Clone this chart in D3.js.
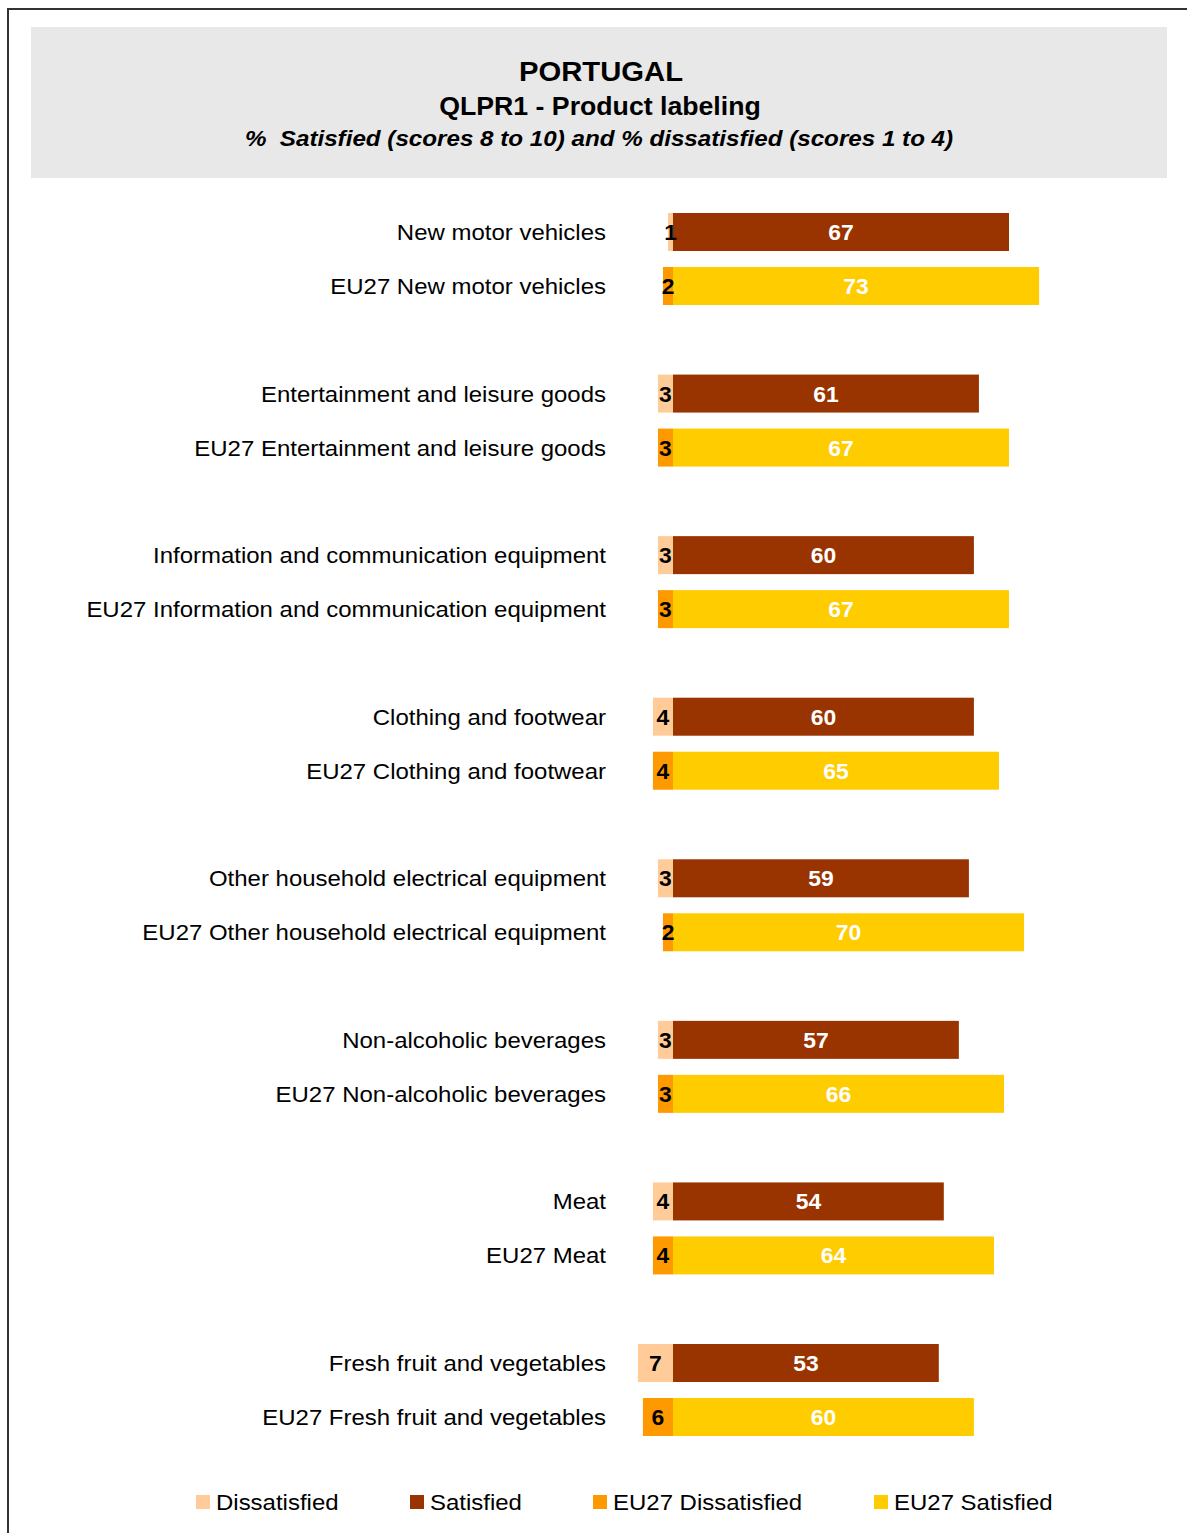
<!DOCTYPE html>
<html><head><meta charset="utf-8">
<script src="https://cdn.jsdelivr.net/npm/d3@7"></script>
<style>body{margin:0;background:#fff}svg{display:block}text{font-family:"Liberation Sans",Arial,sans-serif;white-space:pre}</style>
</head><body>
<script>
const categories = ["New motor vehicles","Entertainment and leisure goods","Information and communication equipment","Clothing and footwear","Other household electrical equipment","Non-alcoholic beverages","Meat","Fresh fruit and vegetables"];
const dissatisfied = [1,3,3,4,3,3,4,7];
const satisfied = [67,61,60,60,59,57,54,53];
const eu27Dissatisfied = [2,3,3,4,2,3,4,6];
const eu27Satisfied = [73,67,67,65,70,66,64,60];
const seriesNames = ["Dissatisfied","Satisfied","EU27 Dissatisfied","EU27 Satisfied"];
const colors = ["#FFCC99","#993300","#FF9900","#FFCC00"];
const titleLines = ["PORTUGAL","QLPR1 - Product labeling","%  Satisfied (scores 8 to 10) and % dissatisfied (scores 1 to 4)"];

const W=1187,H=1533;
const svg=d3.select("body").append("svg").attr("width",W).attr("height",H);
svg.append("path").attr("d","M8,1533 L8,9 L1187,9").attr("fill","none").attr("stroke","#333").attr("stroke-width",2);
svg.append("rect").attr("x",31).attr("y",27).attr("width",1136).attr("height",151).attr("fill","#E8E8E8");
const tt=(x,y,sx)=>`translate(${x},${y}) scale(${sx},1)`;
svg.append("text").attr("transform",tt(601,81,1.045)).attr("text-anchor","middle").attr("font-size",28).attr("font-weight","bold").text(titleLines[0]);
svg.append("text").attr("transform",tt(600,115,1.067)).attr("text-anchor","middle").attr("font-size",25).attr("font-weight","bold").text(titleLines[1]);
svg.append("text").attr("transform",tt(599,146,1.1)).attr("text-anchor","middle").attr("font-size",22).attr("font-weight","bold").attr("font-style","italic").text(titleLines[2]);

const x=d3.scaleLinear().domain([0,10]).range([673,673+50.15]);
const y=d3.scaleLinear().domain([0,7]).range([232,1363]);
const subOff=54, bh=38, sx=1.09;

const rows=[];
categories.forEach((c,i)=>{
  rows.push({label:c,d:dissatisfied[i],s:satisfied[i],cy:y(i),dc:colors[0],sc:colors[1]});
  rows.push({label:"EU27 "+c,d:eu27Dissatisfied[i],s:eu27Satisfied[i],cy:y(i)+subOff,dc:colors[2],sc:colors[3]});
});
const r=svg.append("g").selectAll("g.row").data(rows).join("g");
r.append("text").attr("transform",d=>tt(606,d.cy+8,sx)).attr("text-anchor","end").attr("font-size",22).attr("fill","#000").text(d=>d.label);
r.append("rect").attr("x",d=>x(-d.d)).attr("y",d=>d.cy-bh/2).attr("width",d=>x(0)-x(-d.d)).attr("height",bh).attr("fill",d=>d.dc);
r.append("rect").attr("x",x(0)).attr("y",d=>d.cy-bh/2).attr("width",d=>x(d.s)-x(0)).attr("height",bh).attr("fill",d=>d.sc);
r.append("text").attr("transform",d=>tt((x(-d.d)+x(0))/2,d.cy+8,1.04)).attr("text-anchor","middle").attr("font-size",22).attr("font-weight","bold").attr("fill","#000").text(d=>d.d);
r.append("text").attr("transform",d=>tt((x(d.s)+x(0))/2,d.cy+8,1.04)).attr("text-anchor","middle").attr("font-size",22).attr("font-weight","bold").attr("fill","#fff").text(d=>d.s);

const lx=[196,410,593,874];
const lg=svg.append("g").selectAll("g").data(seriesNames).join("g").attr("transform",(d,i)=>`translate(${lx[i]},1502)`);
lg.append("rect").attr("x",0).attr("y",-7).attr("width",14).attr("height",14).attr("fill",(d,i)=>colors[i]);
lg.append("text").attr("transform",tt(20,8,sx)).attr("font-size",22).text(d=>d);
</script>
</body></html>
